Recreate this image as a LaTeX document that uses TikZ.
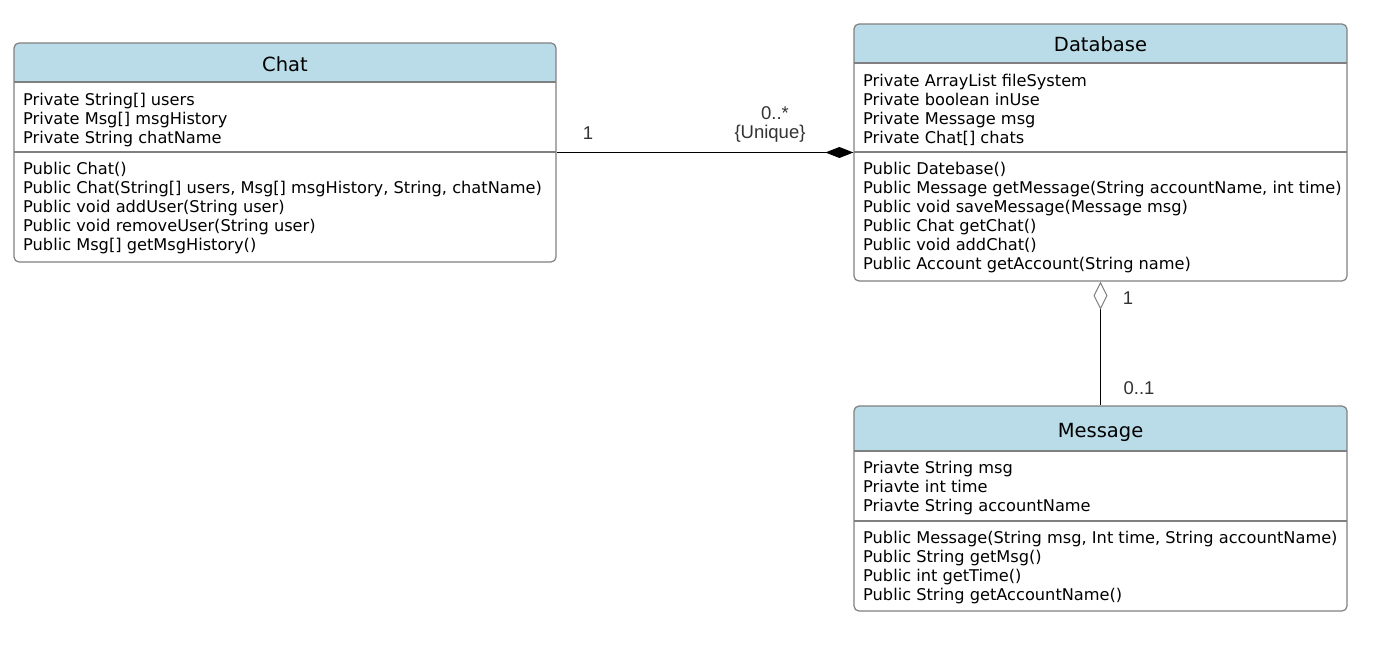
\documentclass[tikz,border=0pt]{standalone}
\usepackage{fontspec}
\setmainfont{DejaVu Sans}
\newfontfamily\lblfont{Liberation Sans}
\usetikzlibrary{arrows.meta}
\definecolor{hdr}{HTML}{BADCE8}
\definecolor{bord}{HTML}{808080}
\definecolor{lbl}{HTML}{333333}
\tikzset{
  classbox/.style={draw=bord, line width=1.2pt, rounded corners=5pt, inner sep=0pt},
  member/.style={anchor=base west, inner sep=0pt, font=\fontsize{16.2}{19}\selectfont},
  ctitle/.style={anchor=base, inner sep=0pt, font=\fontsize{19.5}{22}\selectfont},
  mult/.style={anchor=base, inner sep=0pt, text=lbl, font=\lblfont\fontsize{18.5}{21}\selectfont},
  sepline/.style={draw=bord, line width=1.2pt},
  assoc/.style={draw=black, line width=1.4pt},
}
\begin{document}
\begin{tikzpicture}[x=1pt,y=-1pt]
\useasboundingbox (0,0) rectangle (1390,652);

% ---------- Chat ----------
\begin{scope}
  \clip[rounded corners=5pt] (14,43) rectangle (556,262);
  \fill[hdr] (14,43) rectangle (556,82);
\end{scope}
\node[classbox, minimum width=542pt, minimum height=219pt] (chat) at (285,152.5) {};
\draw[sepline] (14,82) -- (556,82);
\draw[sepline] (14,152) -- (556,152);
\node[ctitle] (chatT) at (285,71.5) {Chat};
\foreach \t [count=\i] in {{Private String[] users},{Private Msg[] msgHistory},{Private String chatName}}
  \node[member] (chatA\i) at (23,{106+19*(\i-1)}) {\t};
\foreach \t [count=\i] in {{Public Chat()},{Public Chat(String[] users, Msg[] msgHistory, String, chatName)},{Public void addUser(String user)},{Public void removeUser(String user)},{Public Msg[] getMsgHistory()}}
  \node[member] (chatM\i) at (23,{175+19*(\i-1)}) {\t};

% ---------- Database ----------
\begin{scope}
  \clip[rounded corners=5pt] (854,24) rectangle (1347,281);
  \fill[hdr] (854,24) rectangle (1347,63);
\end{scope}
\node[classbox, minimum width=493pt, minimum height=257pt] (db) at (1100.5,152.5) {};
\draw[sepline] (854,63) -- (1347,63);
\draw[sepline] (854,152) -- (1347,152);
\node[ctitle] (dbT) at (1100.5,52) {Database};
\foreach \t [count=\i] in {{Private ArrayList fileSystem},{Private boolean inUse},{Private Message msg},{Private Chat[] chats}}
  \node[member] (dbA\i) at (863,{87+19*(\i-1)}) {\t};
\foreach \t [count=\i] in {{Public Datebase()},{Public Message getMessage(String accountName, int time)},{Public void saveMessage(Message msg)},{Public Chat getChat()},{Public void addChat()},{Public Account getAccount(String name)}}
  \node[member] (dbM\i) at (863,{175+19*(\i-1)}) {\t};

% ---------- Message ----------
\begin{scope}
  \clip[rounded corners=5pt] (854,406) rectangle (1347,611);
  \fill[hdr] (854,406) rectangle (1347,451);
\end{scope}
\node[classbox, minimum width=493pt, minimum height=205pt] (msg) at (1100.5,508.5) {};
\draw[sepline] (854,451) -- (1347,451);
\draw[sepline] (854,521) -- (1347,521);
\node[ctitle] (msgT) at (1100.5,437) {Message};
\foreach \t [count=\i] in {{Priavte String msg},{Priavte int time},{Priavte String accountName}}
  \node[member] (msgA\i) at (863,{473+19*(\i-1)}) {\t};
\foreach \t [count=\i] in {{Public Message(String msg, Int time, String accountName)},{Public String getMsg()},{Public int getTime()},{Public String getAccountName()}}
  \node[member] (msgM\i) at (863,{543+19*(\i-1)}) {\t};

% ---------- Connectors ----------
\draw[assoc, -{Diamond[length=28pt,width=11pt]}] (chat.east) -- (db.west);
\draw[assoc, {Diamond[open,fill=white,length=28pt,width=14pt,line width=1pt,color=bord]}-] (db.south) -- (msg.north);

% ---------- Multiplicities ----------
\node[mult] (m1) at (588,140) {1};
\node[mult] (m2) at (775,120) {0..*};
\node[mult] (m3) at (770,139) {\{Unique\}};
\node[mult] (m4) at (1128,305) {1};
\node[mult] (m5) at (1139,394) {0..1};
\end{tikzpicture}
\end{document}
